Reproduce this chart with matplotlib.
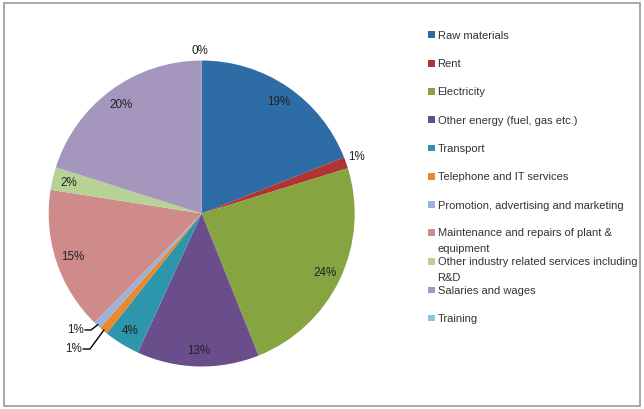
# Cost breakdown pie chart with a side legend

from matplotlib import pyplot as plt
from matplotlib.patches import Rectangle
import numpy as np

categories = ['Raw materials', 'Rent', 'Electricity', 'Other energy (fuel, gas etc.)',
              'Transport', 'Telephone and IT services',
              'Promotion, advertising and marketing',
              'Maintenance and repairs of plant &\nequipment',
              'Other industry related services including\nR&D',
              'Salaries and wages', 'Training']
shares = [19.0, 1.2, 23.7, 12.9, 3.8, 0.9, 0.8, 15.1, 2.4, 20.1, 0.0]
colors = ['#2E6CA6', '#B03434', '#86A440', '#6A4E8C', '#2D95AC', '#E88A2C',
          '#9DB2DB', '#CF8B8A', '#B7D295', '#A596BE', '#8EC7D8']

W, H = 644, 410
fig = plt.figure(figsize=(W / 100, H / 100), dpi=100)
plt.rcParams['font.family'] = ['Liberation Sans', 'DejaVu Sans']
FS = 8.0

# outer frame
fig.patches.append(Rectangle((4 / W, 3 / H), 636 / W, 403 / H, transform=fig.transFigure,
                             fill=False, edgecolor='#9A9A9A', lw=1.2))

cx, cy, R = 201.7, 214.5, 153
ax = fig.add_axes([(cx - R) / W, (H - cy - R) / H, 2 * R / W, 2 * R / H])
wedges, _ = ax.pie(shares, colors=colors, startangle=90, counterclock=False,
                   wedgeprops=dict(linewidth=0))
ax.set_xlim(-1, 1)
ax.set_ylim(-1, 1)
ax.set_aspect('equal')


def px(x, y):
    return (x - cx) / R, (cy - y) / R


total = sum(shares)
outside = {1: px(357, 157), 10: px(200, 51)}
leader = {6: (px(76, 330), px(91, 331)), 5: (px(74, 349), px(90, 350))}

for i, w in enumerate(wedges):
    label = '%d%%' % round(shares[i] / total * 100)
    mid = np.deg2rad((w.theta1 + w.theta2) / 2)
    if i in outside:
        x, y = outside[i]
        ax.text(x, y, label, ha='center', va='center', fontsize=FS + 0.4, color='#222222')
    elif i in leader:
        (tx, ty), (ex, ey) = leader[i]
        ax.text(tx, ty, label, ha='center', va='center', fontsize=FS + 0.4, color='#222222')
        x0 = tx + 0.06
        ax.plot([x0, ex, 0.995 * np.cos(mid)], [ey, ey, 0.995 * np.sin(mid)],
                color='black', lw=1.0, solid_joinstyle='miter')
    else:
        ax.text(0.89 * np.cos(mid), 0.89 * np.sin(mid), label, ha='center', va='center',
                fontsize=FS + 0.4, color='#222222')

# legend drawn as swatches and labels
rows = [35.7, 64.3, 92.3, 120.7, 149, 177.3, 205.7, 233.3, 262.3, 291, 319]
for name, col, y in zip(categories, colors, rows):
    fig.patches.append(Rectangle((427.7 / W, (H - y - 3.4) / H), 6.8 / W, 6.8 / H,
                                 transform=fig.transFigure, color=col, lw=0))
    for k, line in enumerate(name.split('\n')):
        fig.text(437.5 / W, (H - y - 15.5 * k) / H, line, ha='left', va='center',
                 fontsize=FS, color='#333333')

fig.savefig('out.png', dpi=100)
